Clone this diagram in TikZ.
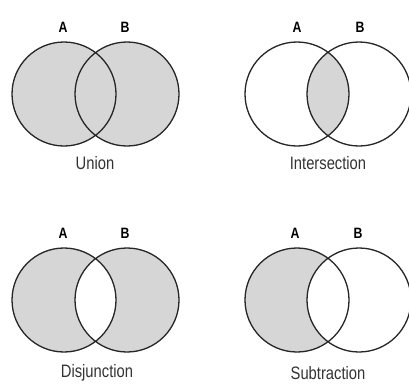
\documentclass[tikz,border=0pt]{standalone}
\usepackage{fontspec}
\setmainfont{Liberation Sans}
\newfontfamily\condfont[FakeStretch=0.82]{Liberation Sans}
\begin{document}
\begin{tikzpicture}[x=1pt,y=-1pt,
  setfill/.style={fill=black!16},
  ring/.style={draw=black!85,line width=1.3pt},
  setlabel/.style={font=\condfont\fontsize{15}{15}\selectfont\bfseries,inner sep=0pt},
  caption/.style={font=\condfont\fontsize{18}{18}\selectfont,inner sep=0pt,text=black!80}]
\useasboundingbox[fill=white] (0,0) rectangle (409,383);
\def\r{52}
% ---------- Union ----------
\fill[setfill] (64,94) circle (\r) (127,94) circle (\r);
\draw[ring] (64,94) circle (\r) (127,94) circle (\r);
\node[setlabel] (ua) at (63,27) {A};
\node[setlabel] (ub) at (125,27) {B};
\node[caption] (uc) at (95,163) {Union};
% ---------- Intersection ----------
\begin{scope}
\clip (297,94) circle (\r);
\fill[setfill] (359,94) circle (\r);
\end{scope}
\draw[ring] (297,94) circle (\r) (359,94) circle (\r);
\node[setlabel] (ia) at (297,27) {A};
\node[setlabel] (ib) at (360,27) {B};
\node[caption] (ic) at (328,163) {Intersection};
% ---------- Disjunction ----------
\fill[setfill,even odd rule] (64,300) circle (\r) (127,300) circle (\r);
\draw[ring] (64,300) circle (\r) (127,300) circle (\r);
\node[setlabel] (da) at (63,233) {A};
\node[setlabel] (db) at (125,233) {B};
\node[caption] (dc) at (97,373) {Disjunction};
% ---------- Subtraction ----------
\fill[setfill] (297,300) circle (\r);
\begin{scope}
\clip (297,300) circle (\r);
\fill[white] (359,300) circle (\r);
\end{scope}
\draw[ring] (297,300) circle (\r) (359,300) circle (\r);
\node[setlabel] (sa) at (295,233) {A};
\node[setlabel] (sb) at (358,233) {B};
\node[caption] (sc) at (328,373) {Subtraction};
\end{tikzpicture}
\end{document}
